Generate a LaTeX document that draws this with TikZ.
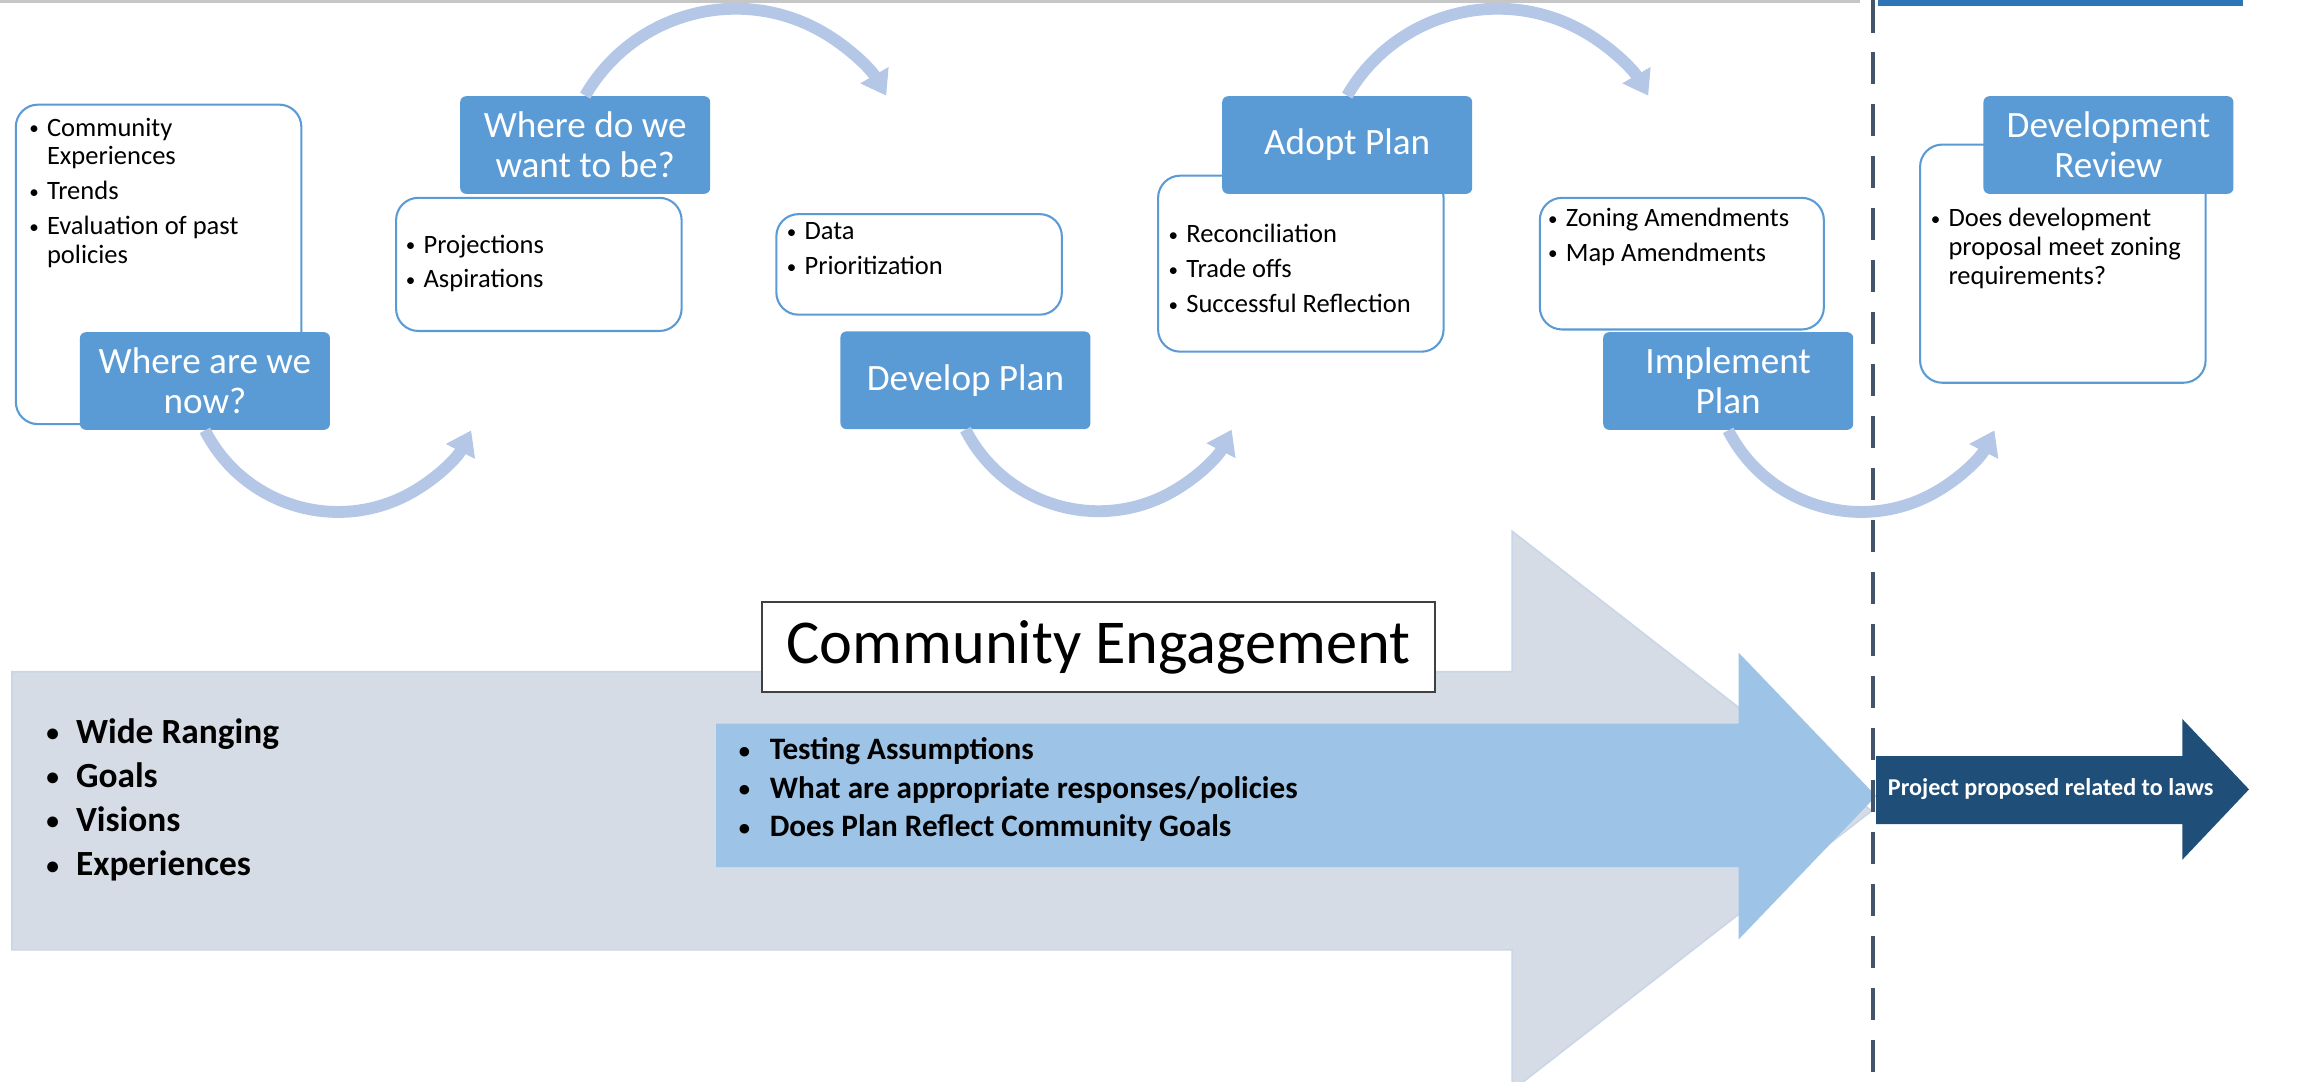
\documentclass[tikz,border=0pt]{standalone}
\usepackage{fontspec}
\setmainfont{Carlito}
\usetikzlibrary{arrows.meta}

\definecolor{stageblue}{HTML}{5B9BD5}
\definecolor{arcblue}{HTML}{B4C7E7}
\definecolor{grayarrow}{HTML}{D6DCE5}
\definecolor{grayedge}{HTML}{C9D6E8}
\definecolor{midblue}{HTML}{9DC3E6}
\definecolor{darkblue}{HTML}{1F4E79}
\definecolor{dashgray}{HTML}{44546A}
\definecolor{topbar}{HTML}{2E75B6}

\newcommand{\dotmark}{\raisebox{0.1ex}{\scalebox{0.72}{•}}}

\begin{document}
\begin{tikzpicture}[x=0.02cm,y=0.02cm,
    stage/.style={fill=stageblue, text=white, rounded corners=0.08cm,
        minimum width=3.38cm, minimum height=1.32cm, inner sep=0pt,
        align=center, font=\fontsize{14.3}{15.4}\selectfont},
    notebox/.style={draw=stageblue, line width=0.8pt, fill=white,
        rounded corners=0.3cm, inner sep=0pt, anchor=north west},
    notes/.style={inner sep=0pt, anchor=north west,
        font=\fontsize{10.2}{11.1}\selectfont},
    flow/.style={draw=arcblue, line width=0.16cm,
        -{Triangle[width=0.42cm,length=0.32cm]}}]

        \useasboundingbox (0,0) rectangle (1568,-731);
        \clip (0,0) rectangle (1568,-731);

        % top edge, cut off
        \draw[gray!45, line width=1.2pt] (0,-1) -- (1257,-1);
        \fill[topbar] (1269,0) rectangle (1516,-4);

        % big arrows
        \fill[grayarrow, draw=grayedge, line width=0.6pt]
            (8,-454) -- (1022,-454) -- (1022,-359) -- (1265,-548)
            -- (1022,-737) -- (1022,-642) -- (8,-642) -- cycle;
        \fill[midblue]
            (484,-489) -- (1175,-489) -- (1175,-441) -- (1268,-538)
            -- (1175,-635) -- (1175,-586) -- (484,-586) -- cycle;
        \fill[darkblue]
            (1268,-511) -- (1475,-511) -- (1475,-486) -- (1520,-533.5)
            -- (1475,-581) -- (1475,-557) -- (1268,-557) -- cycle;

        \node[inner sep=0pt, anchor=north west,
            font=\fontsize{13.6}{17}\selectfont\bfseries] (wide) at (31,-481)
        {
            \begin{tabular}{@{}p{11.4pt}@{}l@{}}
                \dotmark & Wide Ranging \\
                \dotmark & Goals \\
                \dotmark & Visions \\
                \dotmark & Experiences \\
            \end{tabular}};
        \node[inner sep=0pt, anchor=north west,
            font=\fontsize{12}{14.8}\selectfont\bfseries] (tests) at (499,-495)
        {
            \begin{tabular}{@{}p{11.9pt}@{}l@{}}
                \dotmark & Testing Assumptions \\
                \dotmark & What are appropriate responses/policies \\
                \dotmark & Does Plan Reflect Community Goals \\
            \end{tabular}};
        \node[draw=black!75, line width=0.8pt, fill=white, inner sep=0pt,
            minimum width=9.1cm, minimum height=1.22cm,
            font=\fontsize{24}{28}\selectfont] (ce) at (742.5,-437.5)
            {Community Engagement};
        \node[text=white, inner sep=0pt,
            font=\fontsize{9.3}{11}\selectfont\bfseries] (laws) at (1386,-533.5)
            {Project proposed related to laws};

        % note boxes
        \node[notebox, minimum width=3.86cm, minimum height=4.32cm] (b1) at (10,-70) {};
        \node[notebox, minimum width=3.86cm, minimum height=1.8cm] (b2) at (267,-133) {};
        \node[notebox, minimum width=3.86cm, minimum height=1.36cm] (b3) at (524,-144) {};
        \node[notebox, minimum width=3.86cm, minimum height=2.38cm] (b4) at (782,-118) {};
        \node[notebox, minimum width=3.84cm, minimum height=1.78cm] (b5) at (1040,-133) {};
        \node[notebox, minimum width=3.86cm, minimum height=3.22cm] (b6) at (1297,-97) {};

        \node[notes] (n1) at (19.5,-78)
        {
            \begin{tabular}{@{}p{6.8pt}@{}l@{}}
                \dotmark & Community \\
                  & Experiences \\[2.3pt]
                \dotmark & Trends \\[2.3pt]
                \dotmark & Evaluation of past \\
                  & policies \\
            \end{tabular}};
        \node[notes] (n2) at (274,-157)
        {
            \begin{tabular}{@{}p{6.8pt}@{}l@{}}
                \dotmark & Projections \\[2.3pt]
                \dotmark & Aspirations \\
            \end{tabular}};
        \node[notes] (n3) at (531.5,-148)
        {
            \begin{tabular}{@{}p{6.8pt}@{}l@{}}
                \dotmark & Data \\[2.3pt]
                \dotmark & Prioritization \\
            \end{tabular}};
        \node[notes] (n4) at (789.5,-150)
        {
            \begin{tabular}{@{}p{6.8pt}@{}l@{}}
                \dotmark & Reconciliation \\[2.3pt]
                \dotmark & Trade offs \\[2.3pt]
                \dotmark & Successful Reflection \\
            \end{tabular}};
        \node[notes] (n5) at (1046,-139)
        {
            \begin{tabular}{@{}p{6.8pt}@{}l@{}}
                \dotmark & Zoning Amendments \\[2.3pt]
                \dotmark & Map Amendments \\
            \end{tabular}};
        \node[notes] (n6) at (1304.6,-139)
        {
            \begin{tabular}{@{}p{6.8pt}@{}l@{}}
                \dotmark & Does development \\
                  & proposal meet zoning \\
                  & requirements? \\
            \end{tabular}};

        % stages
        \node[stage] (s1) at (138.5,-257.5) {Where are we\\now?};
        \node[stage] (s2) at (395.5,-98) {Where do we\\want to be?};
        \node[stage] (s3) at (652.5,-257) {Develop Plan};
        \node[stage] (s4) at (910.5,-98) {Adopt Plan};
        \node[stage] (s5) at (1168,-257.5) {Implement\\Plan};
        \node[stage] (s6) at (1425,-98) {Development\\Review};

        % flow arcs
        \draw[flow] (s1.south) arc[start angle=207, end angle=333, radius=2.02cm];
        \draw[flow] (s2.north) arc[start angle=150, end angle=30, radius=2.35cm];
        \draw[flow] (s3.south) arc[start angle=207, end angle=333, radius=2.02cm];
        \draw[flow] (s4.north) arc[start angle=150, end angle=30, radius=2.35cm];
        \draw[flow] (s5.south) arc[start angle=207, end angle=333, radius=2.02cm];

        % divider
        \draw[dashgray, line width=1.5pt, dash pattern=on 12.5pt off 7.5pt]
            (1266,0) -- (1266,-731);
    \end{tikzpicture}
\end{document}
